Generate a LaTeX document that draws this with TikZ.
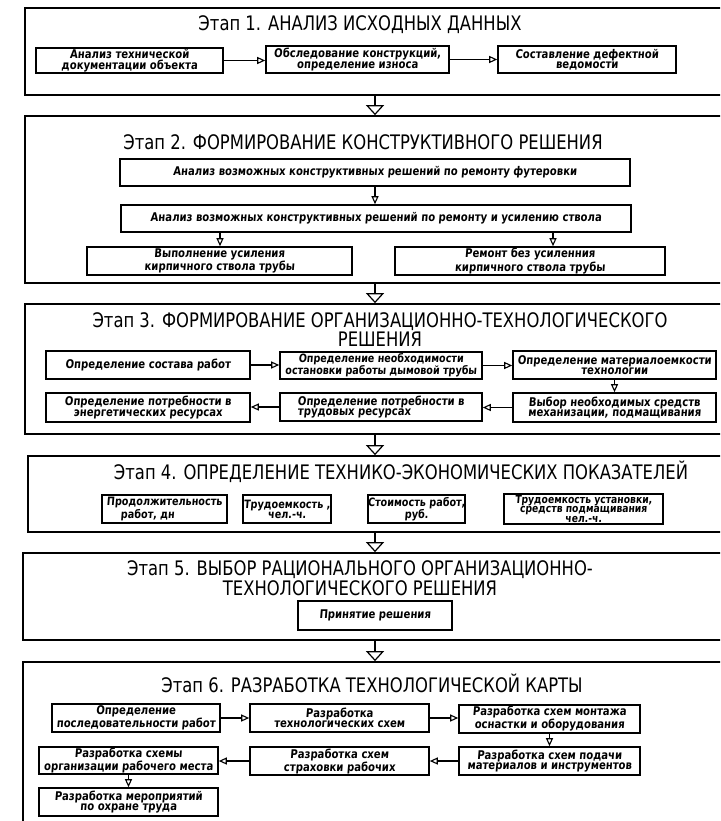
\documentclass[tikz,border=0pt]{standalone}
\usepackage{fontspec}
\setmainfont{DejaVu Sans}
\newfontfamily\ttlfont[FakeStretch=0.82]{DejaVu Sans}
\newfontfamily\bxfont[FakeStretch=0.84,FakeSlant=0.08]{DejaVu Sans}
\usetikzlibrary{arrows.meta}
\tikzset{
  stagebox/.style={draw,line width=1.7pt,inner sep=0pt},
  sub/.style={draw,line width=1.6pt,inner sep=0pt,align=center,font=\bxfont\bfseries\fontsize{12}{10.5}\selectfont},
  ttl/.style={inner sep=0pt,align=center,font=\ttlfont\fontsize{20}{19}\selectfont},
  sarr/.style={line width=1.3pt,-{Triangle[open,length=8pt,width=7pt,line width=1.1pt]}},
  barr/.style={line width=1.3pt,-{Triangle[open,length=10pt,width=18pt,line width=1.2pt]}},
}
\newcommand\Bx[6][]{\node[sub,minimum width={(#4-#2)*1pt},minimum height={(#5-#3)*1pt},#1] (#6) at ({(#2+#4)/2},{(#3+#5)/2})}
\newcommand\Stg[5]{\node[stagebox,minimum width={(#3-#1)*1pt},minimum height={(#4-#2)*1pt}] (#5) at ({(#1+#3)/2},{(#2+#4)/2}) {};}
\begin{document}
\begin{tikzpicture}[x=1pt,y=-1pt]
\useasboundingbox (0,0) rectangle (720,821);
\clip (0,0) rectangle (720,821);
\fill[white] (0,0) rectangle (720,821);
% ---------- Stage 1
\Stg{25}{8}{725}{95}{s1}
\node[ttl] (t1) at (360,25) {Этап 1. АНАЛИЗ ИСХОДНЫХ ДАННЫХ};
\Bx{36}{48}{223}{73}{a1}{Анализ технической\\документации объекта};
\Bx{266}{46}{449}{73}{a2}{Обследование конструкций,\\определение износа};
\Bx{498}{46}{676}{73}{a3}{Составление дефектной\\ведомости};
\draw[sarr] (a1.east) -- (a1.east -| a2.west);
\draw[sarr] (a2.east) -- (a2.east -| a3.west);
% ---------- Stage 2
\Stg{25}{116}{725}{283}{s2}
\node[ttl] (t2) at (363,142) {Этап 2. ФОРМИРОВАНИЕ КОНСТРУКТИВНОГО РЕШЕНИЯ};
\Bx{120}{159}{630}{186}{b1}{Анализ возможных конструктивных решений по ремонту футеровки};
\Bx{121}{205}{631}{232}{b2}{Анализ возможных конструктивных решений по ремонту и усилению ствола};
\Bx{87}{247}{352}{275}{c1}{Выполнение усиления\\кирпичного ствола трубы};
\Bx{395}{247}{665}{275}{c2}{Ремонт без усиленния\\кирпичного ствола трубы};
\coordinate (xc1) at (220,0);
\coordinate (xc2) at (553,0);
\draw[sarr] (b1.south) -- (b1.south |- b2.north);
\draw[sarr] (b2.south -| xc1) -- (c1.north -| xc1);
\draw[sarr] (b2.south -| xc2) -- (c2.north -| xc2);
\draw[barr] (s1.south) -- (s2.north);
% ---------- Stage 3
\Stg{25}{304}{725}{434}{s3}
\node[ttl] (t3) at (380,330) {Этап 3. ФОРМИРОВАНИЕ ОРГАНИЗАЦИОННО-ТЕХНОЛОГИЧЕСКОГО\\РЕШЕНИЯ};
\Bx{46}{351}{250}{379}{d1}{Определение состава работ};
\Bx[font=\bxfont\bfseries\fontsize{11.4}{10.5}\selectfont]{280}{352}{482}{379}{d2}{Определение необходимости\\остановки работы дымовой трубы};
\Bx{513}{351}{716}{379}{d3}{Определение материалоемкости\\технологии};
\Bx{513}{393}{716}{422}{d4}{Выбор необходимых средств\\механизации, подмащивания};
\Bx[align=left]{280}{393}{482}{421}{d5}{Определение потребности в\\трудовых ресурсах};
\Bx{46}{393}{250}{422}{d6}{Определение потребности в\\энергетических ресурсах};
\draw[sarr] (d1.east) -- (d1.east -| d2.west);
\draw[sarr] (d2.east) -- (d2.east -| d3.west);
\draw[sarr] (d3.south) -- (d4.north);
\draw[sarr] (d4.west) -- (d4.west -| d5.east);
\draw[sarr] (d5.west) -- (d5.west -| d6.east);
\draw[barr] (s2.south) -- (s3.north);
% ---------- Stage 4
\Stg{28}{456}{722}{532}{s4}
\node[ttl] (t4) at (401,472) {Этап 4. ОПРЕДЕЛЕНИЕ ТЕХНИКО-ЭКОНОМИЧЕСКИХ ПОКАЗАТЕЛЕЙ};
\Bx[align=left,font=\bxfont\bfseries\fontsize{11.5}{10}\selectfont]{102}{495}{227}{523}{e1}{Продолжительность\\\hspace*{14pt}работ, дн};
\Bx[font=\bxfont\bfseries\fontsize{11.5}{10}\selectfont]{243}{495}{331}{523}{e2}{Трудоемкость ,\\чел.-ч.};
\Bx[font=\bxfont\bfseries\fontsize{11.5}{10}\selectfont]{374}{495}{459}{523}{e3}{Стоимость работ,\\руб.};
\Bx[font=\bxfont\bfseries\fontsize{11}{8}\selectfont]{504}{494}{663}{524}{e4}{Трудоемкость установки,\\средств подмащивания\\чел.-ч.};
\draw[barr] (s3.south) -- (s4.north);
% ---------- Stage 5
\Stg{23}{553}{727}{640}{s5}
\node[ttl,font=\ttlfont\fontsize{20}{20}\selectfont] (t5) at (360,578) {Этап 5. ВЫБОР РАЦИОНАЛЬНОГО ОРГАНИЗАЦИОННО-\\ТЕХНОЛОГИЧЕСКОГО РЕШЕНИЯ};
\Bx{298}{601}{452}{630}{p1}{Принятие решения};
\draw[barr] (s4.south) -- (s5.north);
% ---------- Stage 6
\Stg{23}{662}{727}{860}{s6}
\node[ttl] (t6) at (372,683) {Этап 6. РАЗРАБОТКА ТЕХНОЛОГИЧЕСКОЙ КАРТЫ};
\Bx{52}{704}{220}{732}{r1}{Определение\\последовательности работ};
\Bx{250}{704}{429}{732}{r2}{Разработка\\технологических схем};
\Bx{459}{705}{640}{733}{r3}{Разработка схем монтажа\\оснастки и оборудования};
\Bx{459}{747}{640}{775}{r4}{Разработка схем подачи\\материалов и инструментов};
\Bx{250}{747}{429}{775}{r5}{Разработка схем\\страховки рабочих};
\Bx{39}{747}{218}{774}{r6}{Разработка схемы\\организации рабочего места};
\Bx{39}{788}{218}{816}{r7}{Разработка мероприятий\\по охране труда};
\draw[sarr] (r1.east) -- (r1.east -| r2.west);
\draw[sarr] (r2.east) -- (r2.east -| r3.west);
\draw[sarr] (r3.south) -- (r4.north);
\draw[sarr] (r4.west) -- (r4.west -| r5.east);
\draw[sarr] (r5.west) -- (r5.west -| r6.east);
\draw[sarr] (r6.south) -- (r7.north);
\draw[barr] (s5.south) -- (s6.north);
\end{tikzpicture}
\end{document}
